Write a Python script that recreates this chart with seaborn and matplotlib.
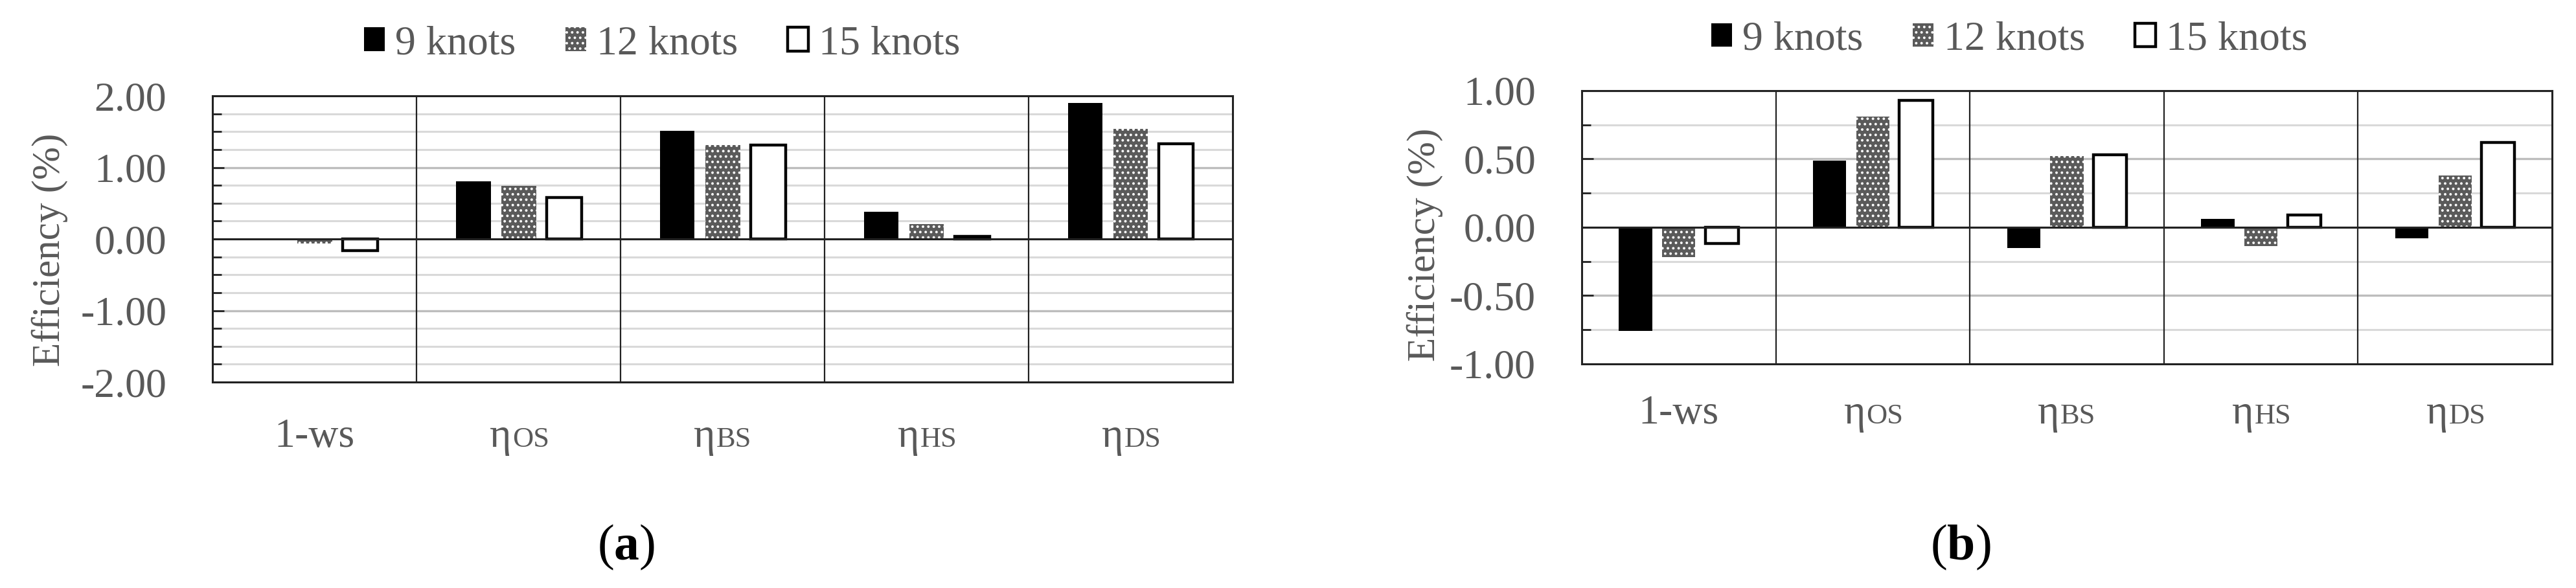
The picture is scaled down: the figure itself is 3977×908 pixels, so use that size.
import numpy as np
import pandas as pd
import matplotlib
matplotlib.use("Agg")
import matplotlib.pyplot as plt
import seaborn as sns
from matplotlib.ticker import MultipleLocator, FormatStrFormatter

# ---------------- data ----------------
categories = ["1-ws", "ηOS", "ηBS", "ηHS", "ηDS"]
cat_main = ["1-ws", "η", "η", "η", "η"]
cat_small = ["", "OS", "BS", "HS", "DS"]
speeds = ["9 knots", "12 knots", "15 knots"]

a_9 = [0.00, 0.81, 1.51, 0.38, 1.90]
a_12 = [-0.06, 0.74, 1.31, 0.21, 1.54]
a_15 = [-0.16, 0.58, 1.31, 0.04, 1.33]

b_9 = [-0.76, 0.49, -0.15, 0.06, -0.08]
b_12 = [-0.22, 0.81, 0.52, -0.14, 0.38]
b_15 = [-0.12, 0.93, 0.53, 0.09, 0.62]

a_yticks = [-2.0, -1.0, 0.0, 1.0, 2.0]
b_yticks = [-1.0, -0.5, 0.0, 0.5, 1.0]

panel_labels = ["a", "b"]

# ---------------- style ----------------
sns.set_theme(style="white")
plt.rcParams["font.family"] = ["Liberation Serif", "DejaVu Serif"]
plt.rcParams["mathtext.fontset"] = "custom"
plt.rcParams["mathtext.rm"] = "Liberation Serif"
plt.rcParams["mathtext.bf"] = "Liberation Serif:bold"
plt.rcParams["hatch.linewidth"] = 1.6

GRAY_TXT = "#595959"
FS = 46
FS_SMALL = 32

fig = plt.figure(figsize=(39.77, 9.08), dpi=100)
axa = fig.add_axes([0.0825, 0.3502, 0.3960, 0.4868])
axb = fig.add_axes([0.6140, 0.3811, 0.3767, 0.4648])


def draw(ax, v9, v12, v15, yticks, base_off, leg_xy, label_xy):
    df = pd.DataFrame({
        "category": categories * 3,
        "speed": np.repeat(speeds, len(categories)),
        "value": list(v9) + list(v12) + list(v15),
    })
    sns.barplot(data=df, x="category", y="value", hue="speed",
                order=categories, hue_order=speeds,
                palette=["black", "#5a5a5a", "white"],
                width=0.667, gap=0.23, saturation=1, errorbar=None,
                legend=False, ax=ax, zorder=3)
    c9, c12, c15 = ax.containers[:3]
    for p in c9:
        p.set_facecolor("black")
        p.set_edgecolor("black")
        p.set_linewidth(0)
    for p in c12:
        p.set_facecolor("#5a5a5a")
        p.set_edgecolor("white")
        p.set_linewidth(0)
        p.set_hatch("..")
    for p in c15:
        p.set_facecolor("white")
        p.set_edgecolor("black")
        p.set_linewidth(3.2)

    ax.set_xlim(-0.5, len(categories) - 0.5)
    ax.set_ylim(yticks[0], yticks[-1])
    ax.set_yticks(yticks)
    ax.yaxis.set_major_formatter(FormatStrFormatter("%.2f"))
    ax.yaxis.set_minor_locator(MultipleLocator(0.25))
    ax.grid(False)
    ax.grid(axis="y", which="minor", color="#d9d9d9", lw=2.2, zorder=0)
    ax.grid(axis="y", which="major", color="#bdbdbd", lw=2.4, zorder=0)
    ax.set_axisbelow(True)
    for xv in np.arange(0.5, len(categories) - 0.5, 1.0):
        ax.axvline(xv, color="#222222", lw=1.6, zorder=2)
    ax.axhline(0, color="#222222", lw=2.2, zorder=4)

    for s in ax.spines.values():
        s.set_visible(True)
        s.set_color("#222222")
        s.set_linewidth(2.2)

    ax.tick_params(axis="y", which="major", direction="in", length=13, width=2,
                   color="#222222", labelsize=FS, labelcolor=GRAY_TXT, pad=51, left=True)
    ax.tick_params(axis="y", which="minor", direction="in", length=10, width=2,
                   color="#222222", left=True)
    ax.set_xticks(range(len(categories)))
    ax.set_xticklabels([])
    ax.tick_params(axis="x", length=0)
    ax.set_xlabel("")
    ax.set_ylabel("Efficiency (%)", fontsize=44, color=GRAY_TXT)
    ax.yaxis.set_label_coords(*label_xy)

    # category labels: eta + small capitals
    for i, (m, s) in enumerate(zip(cat_main, cat_small)):
        if s == "":
            ax.annotate(m, xy=(i, 0), xycoords=("data", "axes fraction"),
                        xytext=(0, -base_off), textcoords="offset points",
                        ha="center", va="baseline", fontsize=FS, color=GRAY_TXT)
        else:
            ax.annotate(m, xy=(i, 0), xycoords=("data", "axes fraction"),
                        xytext=(-8, -base_off), textcoords="offset points",
                        ha="right", va="baseline", fontsize=FS, color=GRAY_TXT)
            ax.annotate(s, xy=(i, 0), xycoords=("data", "axes fraction"),
                        xytext=(-7, -base_off), textcoords="offset points",
                        ha="left", va="baseline", fontsize=FS_SMALL, color=GRAY_TXT)

    ax.legend(handles=[c9, c12, c15], labels=speeds, loc="center",
              bbox_to_anchor=leg_xy, bbox_transform=fig.transFigure,
              ncol=3, frameon=False, fontsize=FS, labelcolor=GRAY_TXT,
              handlelength=0.5, handleheight=0.5, handletextpad=0.25,
              columnspacing=1.2, borderpad=0, borderaxespad=0)


draw(axa, a_9, a_12, a_15, a_yticks, 72, (0.257, 0.925), (-0.1416, 0.462))
draw(axb, b_9, b_12, b_15, b_yticks, 66, (0.780, 0.932), (-0.1429, 0.436))

fig.text(0.2431, 0.0694, r"$\mathrm{(}\mathbf{%s}\mathrm{)}$" % panel_labels[0],
         ha="center", va="center", fontsize=56, color="black")
fig.text(0.7611, 0.0694, r"$\mathrm{(}\mathbf{%s}\mathrm{)}$" % panel_labels[1],
         ha="center", va="center", fontsize=56, color="black")

fig.savefig("out.png", dpi=100, facecolor="white")
